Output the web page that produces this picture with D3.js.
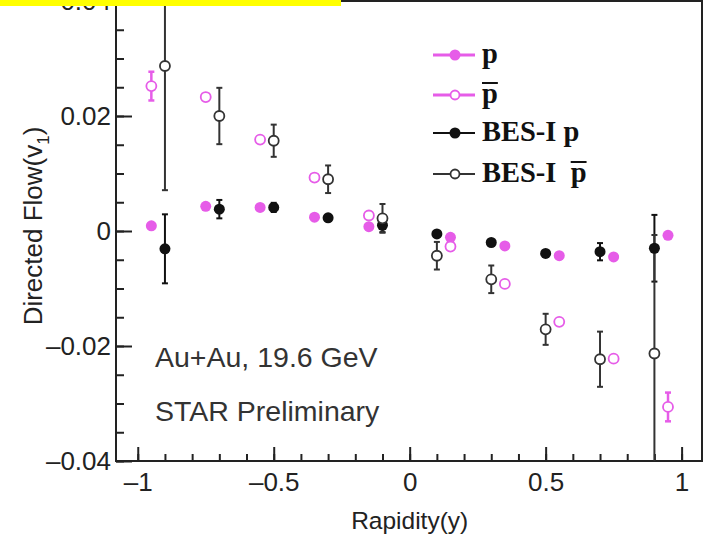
<!DOCTYPE html>
<html>
<head>
<meta charset="utf-8">
<script src="https://cdn.jsdelivr.net/npm/d3@7"></script>
<style>
  body { margin: 0; background: #fff; }
  svg { display: block; }
  .tick text { font-family: "Liberation Sans", Arial, sans-serif; font-size: 26px; fill: #222; }
  .tick line { stroke: #222; stroke-width: 2; }
</style>
</head>
<body>
<svg width="712" height="536"></svg>
<script>
// Rapidity bins (new points shifted by 0.05 from BES-I)
const rapidityNew = [-0.95, -0.75, -0.55, -0.35, -0.15, 0.15, 0.35, 0.55, 0.75, 0.95];
const rapidityBes = [-0.9, -0.7, -0.5, -0.3, -0.1, 0.1, 0.3, 0.5, 0.7, 0.9];

const protonV1 = [0.0009, 0.0043, 0.0041, 0.0024, 0.00075, -0.0011, -0.0026, -0.0043, -0.0045, -0.00075];
const protonErr = [0, 0, 0, 0, 0, 0, 0, 0, 0, 0];
const antiprotonV1 = [0.0252, 0.0233, 0.0159, 0.0093, 0.0027, -0.0027, -0.0092, -0.0158, -0.0222, -0.0306];
const antiprotonErr = [0.0025, 0, 0, 0, 0, 0, 0, 0, 0, 0.0025];
const besProtonV1 = [-0.0031, 0.0038, 0.0041, 0.0023, 0.001, -0.0005, -0.002, -0.0039, -0.0036, -0.003];
const besProtonErr = [0.006, 0.0016, 0.0008, 0.0005, 0.0012, 0.0004, 0.0004, 0.0004, 0.0015, 0.0058];
const besAntiprotonV1 = [0.0287, 0.02, 0.0157, 0.009, 0.0022, -0.0043, -0.0084, -0.0171, -0.0223, -0.0213];
const besAntiprotonErr = [0.0216, 0.0049, 0.0028, 0.0024, 0.0025, 0.0024, 0.0024, 0.0027, 0.0048, 0.0206];

const xMajor = [-1, -0.5, 0, 0.5, 1];
const yMajor = [-0.04, -0.02, 0, 0.02, 0.04];

const magenta = "#e65ce8";

const svg = d3.select("svg");

const x = d3.scaleLinear().domain([-1.08, 1.075]).range([116, 702]);
const y = d3.scaleLinear().domain([-0.04, 0.04]).range([461, 1]);

const fmt = v => (v < 0 ? "\u2013" : "") + Math.abs(v);

// minor ticks
svg.append("g")
    .attr("transform", `translate(0,${y(-0.04)})`)
    .call(d3.axisBottom(x).tickValues(d3.range(-10, 11).map(i => i / 10)).tickSize(-7).tickFormat(""));
svg.append("g")
    .attr("transform", `translate(${x(-1.08)},0)`)
    .call(d3.axisLeft(y).tickValues(d3.range(-8, 9).map(i => i * 0.005)).tickSize(-8).tickFormat(""));

// major ticks + labels
svg.append("g")
    .attr("transform", `translate(0,${y(-0.04)})`)
    .call(d3.axisBottom(x).tickValues(xMajor).tickSize(-14).tickPadding(5).tickFormat(fmt))
    .selectAll("text").attr("dy", "0.95em");
svg.append("g")
    .attr("transform", `translate(${x(-1.08)},0)`)
    .call(d3.axisLeft(y).tickValues(yMajor).tickSize(-16).tickPadding(5).tickFormat(fmt));

svg.selectAll(".domain").remove();

// frame
svg.append("rect")
    .attr("x", x(-1.08)).attr("y", y(0.04))
    .attr("width", x(1.075) - x(-1.08)).attr("height", y(-0.04) - y(0.04))
    .attr("fill", "none").attr("stroke", "#222").attr("stroke-width", 2);

svg.append("clipPath").attr("id", "plot")
    .append("rect")
    .attr("x", x(-1.08)).attr("y", y(0.04))
    .attr("width", x(1.075) - x(-1.08)).attr("height", y(-0.04) - y(0.04));

const series = [
    { xs: rapidityNew, v: protonV1, e: protonErr, color: magenta, open: false, lw: 2.5 },
    { xs: rapidityNew, v: antiprotonV1, e: antiprotonErr, color: magenta, open: true, lw: 2.5 },
    { xs: rapidityBes, v: besProtonV1, e: besProtonErr, color: "#111", open: false, lw: 2 },
    { xs: rapidityBes, v: besAntiprotonV1, e: besAntiprotonErr, color: "#333", open: true, lw: 2 }
];

const plot = svg.append("g").attr("clip-path", "url(#plot)");

series.forEach(s => {
    const pts = s.xs.map((xv, i) => ({ x: xv, v: s.v[i], e: s.e[i] })).filter(d => d.e > 0);
    const g = plot.append("g").attr("stroke", s.color).attr("stroke-width", s.lw);
    g.selectAll("line.bar").data(pts).enter().append("line")
        .attr("x1", d => x(d.x)).attr("x2", d => x(d.x))
        .attr("y1", d => y(d.v + d.e)).attr("y2", d => y(d.v - d.e));
    [1, -1].forEach(sign => {
        g.selectAll(null).data(pts).enter().append("line")
            .attr("x1", d => x(d.x) - 3).attr("x2", d => x(d.x) + 3)
            .attr("y1", d => y(d.v + sign * d.e)).attr("y2", d => y(d.v + sign * d.e));
    });
});

series.forEach(s => {
    plot.append("g").selectAll("circle")
        .data(s.xs.map((xv, i) => ({ x: xv, v: s.v[i] })))
        .enter().append("circle")
        .attr("cx", d => x(d.x)).attr("cy", d => y(d.v))
        .attr("r", s.open ? 5 : 5.5)
        .attr("fill", s.open ? "#fff" : s.color)
        .attr("stroke", s.open ? s.color : "none")
        .attr("stroke-width", 1.8);
});

// axis titles
svg.append("text")
    .attr("x", x(0)).attr("y", 529)
    .attr("text-anchor", "middle")
    .style("font-family", "Liberation Sans, Arial, sans-serif")
    .style("font-size", "24.5px").attr("fill", "#222")
    .text("Rapidity(y)");

const ylab = svg.append("text")
    .attr("transform", "translate(42,226) rotate(-90)")
    .attr("text-anchor", "middle")
    .style("font-family", "Liberation Sans, Arial, sans-serif")
    .style("font-size", "26px").attr("fill", "#222");
ylab.append("tspan").text("Directed Flow(v");
ylab.append("tspan").attr("dy", 7).style("font-size", "17px").text("1");
ylab.append("tspan").attr("dy", -7).text(")");

// annotations
[["Au+Au, 19.6 GeV", 367], ["STAR Preliminary", 421]].forEach(([t, yy]) => {
    svg.append("text").attr("x", 155).attr("y", yy)
        .style("font-family", "Liberation Sans, Arial, sans-serif")
        .style("font-size", "28.5px").attr("fill", "#333")
        .text(t);
});

// legend
const legendRows = [
    { label: "p", bar: false, s: series[0], yy: 55 },
    { label: "", bar: true, s: series[1], yy: 95 },
    { label: "BES-I p", bar: false, s: series[2], yy: 133 },
    { label: "BES-I\u00a0\u00a0", bar: true, s: series[3], yy: 174 }
];
const legend = svg.append("g");
legendRows.forEach(r => {
    legend.append("line")
        .attr("x1", 433).attr("x2", 475).attr("y1", r.yy).attr("y2", r.yy)
        .attr("stroke", r.s.color).attr("stroke-width", r.s.color === magenta ? 3 : 2);
    legend.append("circle")
        .attr("cx", 455).attr("cy", r.yy).attr("r", r.s.open ? 4.5 : 5.5)
        .attr("fill", r.s.open ? "#fff" : r.s.color)
        .attr("stroke", r.s.open ? r.s.color : "none").attr("stroke-width", 1.8);
    const t = legend.append("text")
        .attr("x", 482).attr("y", r.yy + 8)
        .style("font-family", "Liberation Serif, Times New Roman, serif")
        .style("font-size", "28.5px").style("font-weight", "bold")
        .attr("fill", "#111");
    const lead = t.append("tspan").text(r.label);
    if (r.bar) {
        const p = t.append("tspan").text("p");
        const x0 = 482 + (r.label ? lead.node().getComputedTextLength() : 0);
        const w = p.node().getComputedTextLength();
        legend.append("line")
            .attr("x1", x0).attr("x2", x0 + w)
            .attr("y1", r.yy - 12).attr("y2", r.yy - 12)
            .attr("stroke", "#111").attr("stroke-width", 2);
    }
});

// yellow highlight strip at the top
svg.append("rect")
    .attr("x", 0).attr("y", 0).attr("width", 341).attr("height", 6)
    .attr("fill", "#ffff00");
</script>
</body>
</html>
